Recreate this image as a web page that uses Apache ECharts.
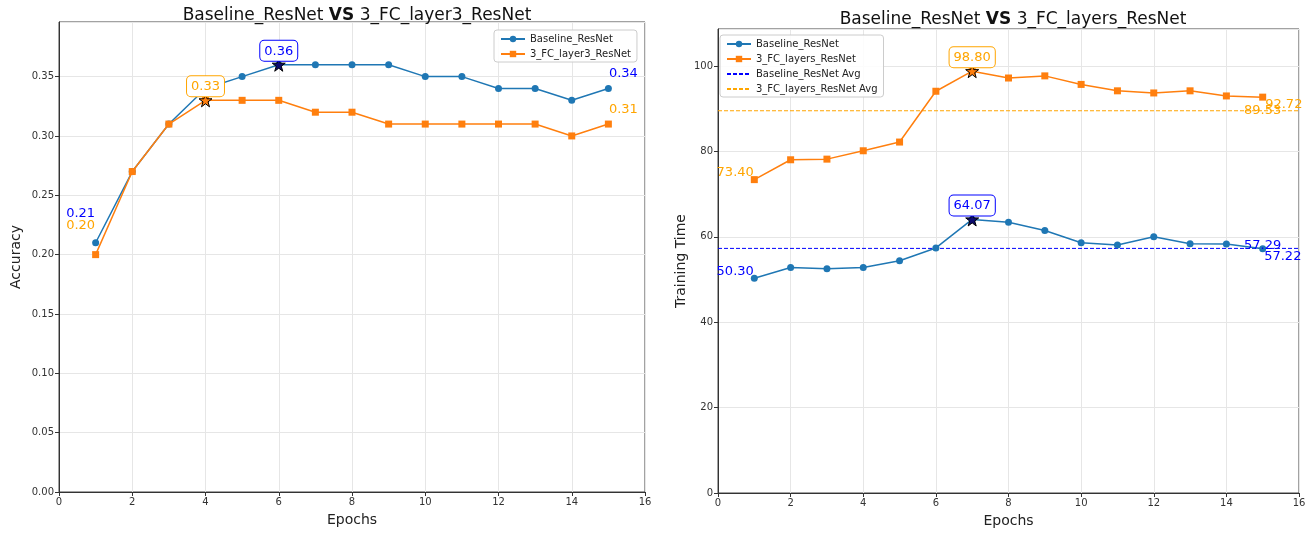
<!DOCTYPE html>
<html>
<head>
<meta charset="utf-8">
<script src="https://cdn.jsdelivr.net/npm/echarts@6/dist/echarts.min.js"></script>
<style>html,body{margin:0;padding:0;background:#fff;}#c{width:1315px;height:534px;}</style>
</head>
<body>
<div id="c"></div>
<script>
// ---- data ----
const epochs = [1, 2, 3, 4, 5, 6, 7, 8, 9, 10, 11, 12, 13, 14, 15];
const accBaseline = [0.21, 0.27, 0.31, 0.34, 0.35, 0.36, 0.36, 0.36, 0.36, 0.35, 0.35, 0.34, 0.34, 0.33, 0.34];
const accFC = [0.20, 0.27, 0.31, 0.33, 0.33, 0.33, 0.32, 0.32, 0.31, 0.31, 0.31, 0.31, 0.31, 0.30, 0.31];
const timeBaseline = [50.30, 52.8, 52.5, 52.8, 54.4, 57.4, 64.07, 63.4, 61.5, 58.6, 58.1, 60.0, 58.4, 58.3, 57.22];
const timeFC = [73.40, 78.05, 78.2, 80.16, 82.2, 94.1, 98.80, 97.2, 97.7, 95.7, 94.2, 93.7, 94.2, 93.0, 92.72];
const avgTimeBaseline = 57.29;
const avgTimeFC = 89.53;
const accTicks = { min: 0, max: 0.396, interval: 0.05 };
const timeTicks = { min: 0, max: 108.68, interval: 20 };
const epochTicks = { min: 0, max: 16, interval: 2 };

const FONT = 'DejaVu Sans';
const C_BLUE = '#1f77b4', C_ORANGE = '#ff7f0e';
const T_BLUE = '#0000ff', T_ORANGE = '#ffa500';
const STAR = 'path://M50,0 L61.8,35.1 L98.9,35.1 L68.9,57 L80.3,92.1 L50,70.4 L19.7,92.1 L31.1,57 L1.1,35.1 L38.2,35.1 Z';

function lineSeries(name, values, axisIdx, color, symbol, textColor, starColor, firstOff, lastOff, digits) {
  let maxIdx = 0;
  values.forEach((v, i) => { if (v > values[maxIdx]) maxIdx = i; });
  const last = values.length - 1;
  const data = epochs.map((e, i) => {
    const item = { value: [e, values[i]] };
    if (i === 0) {
      item.label = { show: true, position: 'left', distance: 0, offset: firstOff,
        formatter: values[i].toFixed(2), color: textColor, fontSize: 13, fontFamily: FONT };
    } else if (i === last) {
      item.label = { show: true, position: 'right', distance: 0, offset: lastOff,
        formatter: values[i].toFixed(2), color: textColor, fontSize: 13, fontFamily: FONT };
    }
    return item;
  });
  return {
    name: name, type: 'line', xAxisIndex: axisIdx, yAxisIndex: axisIdx,
    data: data, symbol: symbol, symbolSize: 7, showAllSymbol: true,
    lineStyle: { color: color, width: 1.5 }, itemStyle: { color: color },
    emphasis: { disabled: true },
    markPoint: {
      symbol: STAR, symbolSize: 13, silent: true,
      itemStyle: { color: starColor, borderColor: '#000', borderWidth: 1 },
      label: { show: true, position: 'top', distance: -3, color: textColor, fontSize: 13, fontFamily: FONT,
        backgroundColor: '#fff', borderColor: textColor, borderWidth: 1, borderRadius: 4, padding: [4, 4, 3, 4],
        formatter: values[maxIdx].toFixed(digits) },
      data: [{ coord: [epochs[maxIdx], values[maxIdx]] }]
    },
    z: 3
  };
}

function avgSeries(name, avg, color, textColor, labelDy) {
  const lastE = epochs[epochs.length - 1];
  return {
    name: name, type: 'line', xAxisIndex: 1, yAxisIndex: 1, symbol: 'circle', showSymbol: false,
    lineStyle: { color: color, width: 1, type: [4, 2] },
    itemStyle: { color: 'rgba(0,0,0,0)', borderColor: 'rgba(0,0,0,0)', borderWidth: 0 },
    emphasis: { disabled: true },
    data: [[epochTicks.min, avg], [epochTicks.max, avg]],
    markPoint: {
      symbol: 'circle', symbolSize: 1, silent: true,
      itemStyle: { color: 'rgba(0,0,0,0)' },
      label: { show: true, position: 'inside', offset: [0, labelDy], formatter: avg.toFixed(2),
        color: textColor, fontSize: 13, fontFamily: FONT },
      data: [{ coord: [lastE, avg] }]
    },
    z: 2
  };
}

function xAx(idx) {
  return {
    type: 'value', gridIndex: idx, min: epochTicks.min, max: epochTicks.max, interval: epochTicks.interval,
    name: 'Epochs', nameLocation: 'middle', nameGap: 21,
    nameTextStyle: { fontFamily: FONT, fontSize: 14, color: '#222' },
    axisLine: { show: true, onZero: false, lineStyle: { color: '#333' } },
    axisTick: { show: true, length: 4, lineStyle: { color: '#333' } },
    axisLabel: { fontFamily: FONT, fontSize: 10, color: '#333', margin: 5 },
    splitLine: { show: true, lineStyle: { color: '#e6e6e6' } }
  };
}
function yAx(idx, t, name, gap, digits) {
  return {
    type: 'value', gridIndex: idx, min: t.min, max: t.max, interval: t.interval,
    name: name, nameLocation: 'middle', nameGap: gap,
    nameTextStyle: { fontFamily: FONT, fontSize: 14, color: '#222' },
    axisLine: { show: true, onZero: false, lineStyle: { color: '#333' } },
    axisTick: { show: true, length: 4, lineStyle: { color: '#333' } },
    axisLabel: { fontFamily: FONT, fontSize: 10, color: '#333', margin: 5, showMaxLabel: false,
      formatter: v => v.toFixed(digits) },
    splitLine: { show: true, lineStyle: { color: '#e6e6e6' } }
  };
}

const titleRich = { b: { fontWeight: 'bold', fontSize: 17, fontFamily: FONT, color: '#111' } };
const legendBase = {
  orient: 'vertical', itemWidth: 24, itemHeight: 8, itemGap: 5, padding: [4, 6, 3, 6],
  backgroundColor: 'rgba(255,255,255,0.85)', borderColor: '#ccc', borderWidth: 1, borderRadius: 3,
  textStyle: { fontFamily: FONT, fontSize: 10, color: '#222' }
};
const option = {
  animation: false,
  backgroundColor: '#fff',
  title: [
    { text: 'Baseline_ResNet {b|VS} 3_FC_layer3_ResNet', left: 352, top: 2, textAlign: 'center',
      textStyle: { fontFamily: FONT, fontSize: 17, fontWeight: 'normal', color: '#111', rich: titleRich } },
    { text: 'Baseline_ResNet {b|VS} 3_FC_layers_ResNet', left: 1008, top: 6, textAlign: 'center',
      textStyle: { fontFamily: FONT, fontSize: 17, fontWeight: 'normal', color: '#111', rich: titleRich } }
  ],
  grid: [
    { left: 59, right: 670, top: 22, bottom: 42, show: true, borderColor: '#444', borderWidth: 1, backgroundColor: 'transparent' },
    { left: 718, right: 16, top: 29, bottom: 41, show: true, borderColor: '#444', borderWidth: 1, backgroundColor: 'transparent' }
  ],
  legend: [
    Object.assign({}, legendBase, { data: ['Baseline_ResNet', '3_FC_layer3_ResNet'], left: 494, top: 30 }),
    Object.assign({}, legendBase, { data: ['Baseline_ResNet', '3_FC_layers_ResNet', 'Baseline_ResNet Avg', '3_FC_layers_ResNet Avg'],
      left: 720, top: 35 })
  ],
  xAxis: [xAx(0), xAx(1)],
  yAxis: [yAx(0, accTicks, 'Accuracy', 36, 2), yAx(1, timeTicks, 'Training Time', 30, 0)],
  series: [
    lineSeries('Baseline_ResNet', accBaseline, 0, C_BLUE, 'circle', T_BLUE, '#0b0b70', [3, -29], [-3, -15], 2),
    lineSeries('3_FC_layer3_ResNet', accFC, 0, C_ORANGE, 'rect', T_ORANGE, C_ORANGE, [3, -29], [-3, -14], 2),
    lineSeries('Baseline_ResNet', timeBaseline, 1, C_BLUE, 'circle', T_BLUE, '#0b0b70', [3, -7], [-2, 8], 2),
    lineSeries('3_FC_layers_ResNet', timeFC, 1, C_ORANGE, 'rect', T_ORANGE, C_ORANGE, [3, -7], [-1, 7], 2),
    avgSeries('Baseline_ResNet Avg', avgTimeBaseline, T_BLUE, T_BLUE, -3),
    avgSeries('3_FC_layers_ResNet Avg', avgTimeFC, T_ORANGE, T_ORANGE, 0)
  ]
};
const chart = echarts.init(document.getElementById('c'), null, { renderer: 'canvas' });
chart.setOption(option);
</script>
</body>
</html>
